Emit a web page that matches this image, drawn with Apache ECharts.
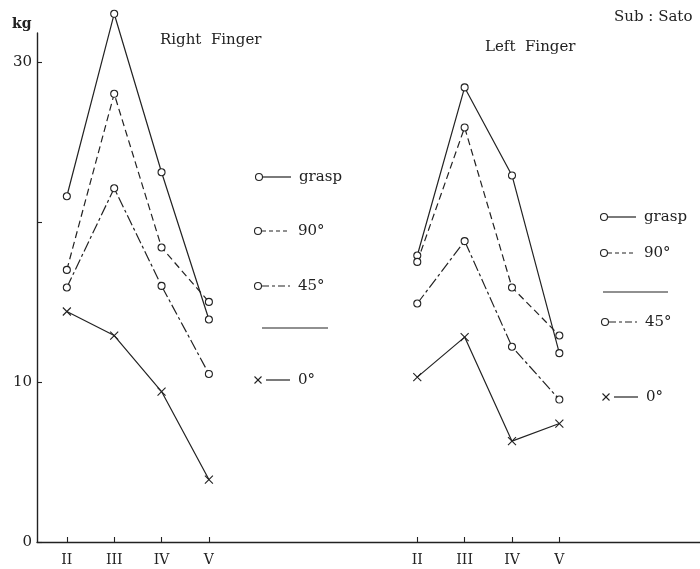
<!DOCTYPE html>
<html>
<head>
<meta charset="utf-8">
<script src="https://cdn.jsdelivr.net/npm/echarts@6/dist/echarts.min.js"></script>
<style>
html, body { margin: 0; padding: 0; background: #fff; }
#chart { width: 700px; height: 569px; }
</style>
</head>
<body>
<div id="chart"></div>
<script>
// Fingers measured on each hand
const fingers = ['II', 'III', 'IV', 'V'];

// Finger force (kg), right hand
const rightGrasp = [21.6, 33.0, 23.1, 13.9];
const right90 = [17.0, 28.0, 18.4, 15.0];
const right45 = [15.9, 22.1, 16.0, 10.5];
const right0 = [14.4, 12.9, 9.4, 3.9];

// Finger force (kg), left hand
const leftGrasp = [17.9, 28.4, 22.9, 11.8];
const left90 = [17.5, 25.9, 15.9, 12.9];
const left45 = [14.9, 18.8, 12.2, 8.9];
const left0 = [10.3, 12.8, 6.3, 7.4];

// Value axis ticks and which of them carry a label
const yTicks = [0, 10, 20, 30];
const yLabels = [0, 10, 30];

// Where each hand's group of fingers starts along the x axis
const RIGHT_START = 1;
const LEFT_START = 8.4;
const xPos = (start) => fingers.map((_, i) => start + i);
const rightX = xPos(RIGHT_START);
const leftX = xPos(LEFT_START);
const allX = rightX.concat(leftX);

const INK = '#222';
const SERIF = '"DejaVu Serif", "Liberation Serif", serif';

const styles = {
  grasp: { type: 'solid', symbol: 'circle' },
  d90: { type: [7, 4], symbol: 'circle' },
  d45: { type: [11, 3, 3, 3], symbol: 'circle' },
  d0: { type: 'solid', symbol: 'path://M0,0L10,10M10,0L0,10' }
};

function makeSeries(name, xs, values, st) {
  const circle = st.symbol === 'circle';
  return {
    name: name,
    type: 'line',
    clip: false,
    data: values.map((v, i) => [xs[i], v]),
    symbol: st.symbol,
    symbolSize: circle ? 7 : 8,
    lineStyle: { color: INK, width: 1.2, type: st.type },
    itemStyle: circle
      ? { color: '#fff', borderColor: INK, borderWidth: 1.1 }
      : { color: INK, borderColor: INK, borderWidth: 1.1 },
    emphasis: { disabled: true },
    animation: false,
    z: circle ? 3 : 2
  };
}

const series = [
  makeSeries('R grasp', rightX, rightGrasp, styles.grasp),
  makeSeries('R 90', rightX, right90, styles.d90),
  makeSeries('R 45', rightX, right45, styles.d45),
  makeSeries('R 0', rightX, right0, styles.d0),
  makeSeries('L grasp', leftX, leftGrasp, styles.grasp),
  makeSeries('L 90', leftX, left90, styles.d90),
  makeSeries('L 45', leftX, left45, styles.d45),
  makeSeries('L 0', leftX, left0, styles.d0)
];

// Key drawn next to each panel
function keyEntry(x, y, kind, label) {
  const els = [];
  const dash = kind === '90' ? [4, 3] : kind === '45' ? [7, 3, 3, 3] : null;
  const lineStart = kind === '0' ? x + 8 : x + 4;
  els.push({
    type: 'line',
    shape: { x1: lineStart, y1: y, x2: x + 32, y2: y },
    style: { stroke: INK, lineWidth: 1.2, lineDash: dash },
    silent: true
  });
  if (kind === '0') {
    els.push({ type: 'line', shape: { x1: x - 3.5, y1: y - 3.5, x2: x + 3.5, y2: y + 3.5 }, style: { stroke: INK, lineWidth: 1.1 }, silent: true });
    els.push({ type: 'line', shape: { x1: x + 3.5, y1: y - 3.5, x2: x - 3.5, y2: y + 3.5 }, style: { stroke: INK, lineWidth: 1.1 }, silent: true });
  } else {
    els.push({ type: 'circle', shape: { cx: x, cy: y, r: 3.5 }, style: { fill: '#fff', stroke: INK, lineWidth: 1.1 }, z: 10, silent: true });
  }
  els.push({
    type: 'text',
    x: x + 40, y: y,
    style: { text: label, font: '15px ' + SERIF, fill: INK, verticalAlign: 'middle' },
    silent: true
  });
  return els;
}

function plainLine(x1, x2, y) {
  return { type: 'line', shape: { x1: x1, y1: y, x2: x2, y2: y }, style: { stroke: INK, lineWidth: 1.2 }, silent: true };
}

function text(str, x, y, size, weight) {
  return {
    type: 'text', x: x, y: y,
    style: { text: str, font: (weight || 'normal') + ' ' + size + 'px ' + SERIF, fill: INK, verticalAlign: 'middle' },
    silent: true
  };
}

const graphics = [].concat(
  text('kg', 12, 24, 14, 'bold'),
  text('Right  Finger', 160, 40, 15),
  text('Left  Finger', 485, 47, 15),
  text('Sub : Sato', 614, 17, 15),
  keyEntry(259, 177, 'grasp', 'grasp'),
  keyEntry(258, 231, '90', '90°'),
  keyEntry(258, 286, '45', '45°'),
  [plainLine(262, 328, 328)],
  keyEntry(258, 380, '0', '0°'),
  keyEntry(604, 217, 'grasp', 'grasp'),
  keyEntry(604, 253, '90', '90°'),
  [plainLine(603, 668, 292)],
  keyEntry(605, 322, '45', '45°'),
  keyEntry(606, 397, '0', '0°')
);

const chart = echarts.init(document.getElementById('chart'), null, { renderer: 'canvas' });
chart.setOption({
  backgroundColor: '#fff',
  animation: false,
  grid: { left: 37, right: 0, top: 33, bottom: 27, containLabel: false },
  xAxis: {
    type: 'value',
    min: 0.37,
    max: 14.37,
    splitLine: { show: false },
    axisLine: { lineStyle: { color: INK, width: 1.4 } },
    axisTick: { inside: true, length: 5, customValues: allX, lineStyle: { color: INK, width: 1.1 } },
    axisLabel: {
      customValues: allX,
      margin: 11,
      color: INK,
      fontFamily: SERIF,
      fontSize: 14,
      formatter: (v) => {
        const i = allX.findIndex((p) => Math.abs(p - v) < 1e-6);
        return i < 0 ? '' : fingers[i % fingers.length];
      }
    }
  },
  yAxis: {
    type: 'value',
    min: 0,
    max: 31.8,
    splitLine: { show: false },
    axisLine: { show: true, lineStyle: { color: INK, width: 1.4 } },
    axisTick: { show: true, inside: true, length: 5, customValues: yTicks, lineStyle: { color: INK, width: 1.1 } },
    axisLabel: { customValues: yLabels, color: INK, fontFamily: SERIF, fontSize: 15, margin: 5 }
  },
  series: series,
  graphic: graphics
});
</script>
</body>
</html>
